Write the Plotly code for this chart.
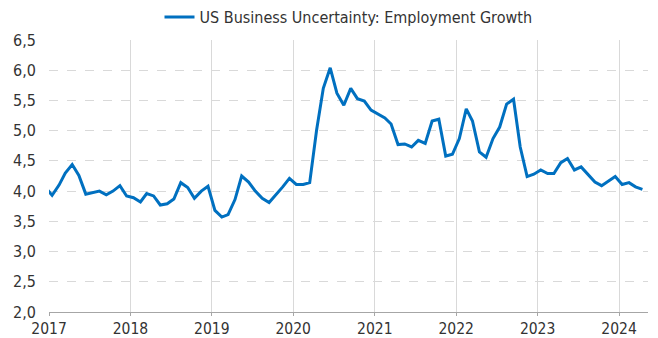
import plotly.graph_objects as go
import pandas as pd

dates = pd.date_range("2016-12-01", periods=89, freq="MS") + pd.Timedelta(days=14)
values = [
    4.07,
    3.93, 4.10, 4.30, 4.44, 4.26, 3.95, 3.97, 4.00, 3.94, 4.00, 4.09, 3.92,
    3.89, 3.82, 3.96, 3.92, 3.77, 3.79, 3.87, 4.14, 4.06, 3.88, 4.00, 4.08,
    3.68, 3.57, 3.61, 3.86, 4.25, 4.15, 4.00, 3.88, 3.81, 3.93, 4.07, 4.21,
    4.11, 4.11, 4.14, 5.01, 5.70, 6.04, 5.62, 5.42, 5.70, 5.53, 5.49, 5.34,
    5.27, 5.21, 5.11, 4.77, 4.78, 4.73, 4.84, 4.79, 5.16, 5.19, 4.58, 4.61,
    4.87, 5.36, 5.16, 4.65, 4.56, 4.87, 5.06, 5.44, 5.52, 4.73, 4.24, 4.28,
    4.35, 4.29, 4.29, 4.47, 4.54, 4.35, 4.40, 4.28, 4.15, 4.09, 4.16, 4.24,
    4.11, 4.14, 4.07, 4.03,
]
series_name = "US Business Uncertainty: Employment Growth"
year_ticks = [f"{y}-01-01" for y in range(2017, 2025)]
year_labels = [str(y) for y in range(2017, 2025)]

fig = go.Figure()
fig.add_trace(go.Scatter(
    x=dates, y=values, mode="lines", name=series_name,
    line=dict(color="#0070C0", width=3),
))

font_family = "DejaVu Sans Condensed, Roboto Condensed, Roboto, sans-serif"
fig.update_layout(
    width=658, height=338,
    margin=dict(l=49, r=10, t=40, b=26, autoexpand=False),
    paper_bgcolor="white", plot_bgcolor="white",
    separators=",.",
    font=dict(family=font_family, size=16, color="#333333"),
    showlegend=True,
    legend=dict(orientation="h", x=0.5, xanchor="center",
                yref="container", y=1.0, yanchor="top",
                font=dict(size=16, color="#333333")),
    xaxis=dict(
        type="date",
        range=["2017-01-01", "2024-05-10"],
        tickvals=year_ticks, ticktext=year_labels,
        showgrid=True, gridcolor="#D9D9D9", gridwidth=1,
        showline=True, linecolor="#A6A6A6", linewidth=1,
        ticks="outside", ticklen=3, tickcolor="#A6A6A6",
        tickfont=dict(size=15.5, color="#333333"),
        ticklabelstandoff=-1,
        zeroline=False,
    ),
    yaxis=dict(
        range=[2.0, 6.5], dtick=0.5, tickformat=".1f",
        showgrid=True, gridcolor="#D9D9D9", gridwidth=1, griddash="dash",
        showline=False, zeroline=False,
        tickfont=dict(size=16, color="#333333"),
        ticks="", ticklabelstandoff=12,
    ),
)
fig.write_html("out.html")
